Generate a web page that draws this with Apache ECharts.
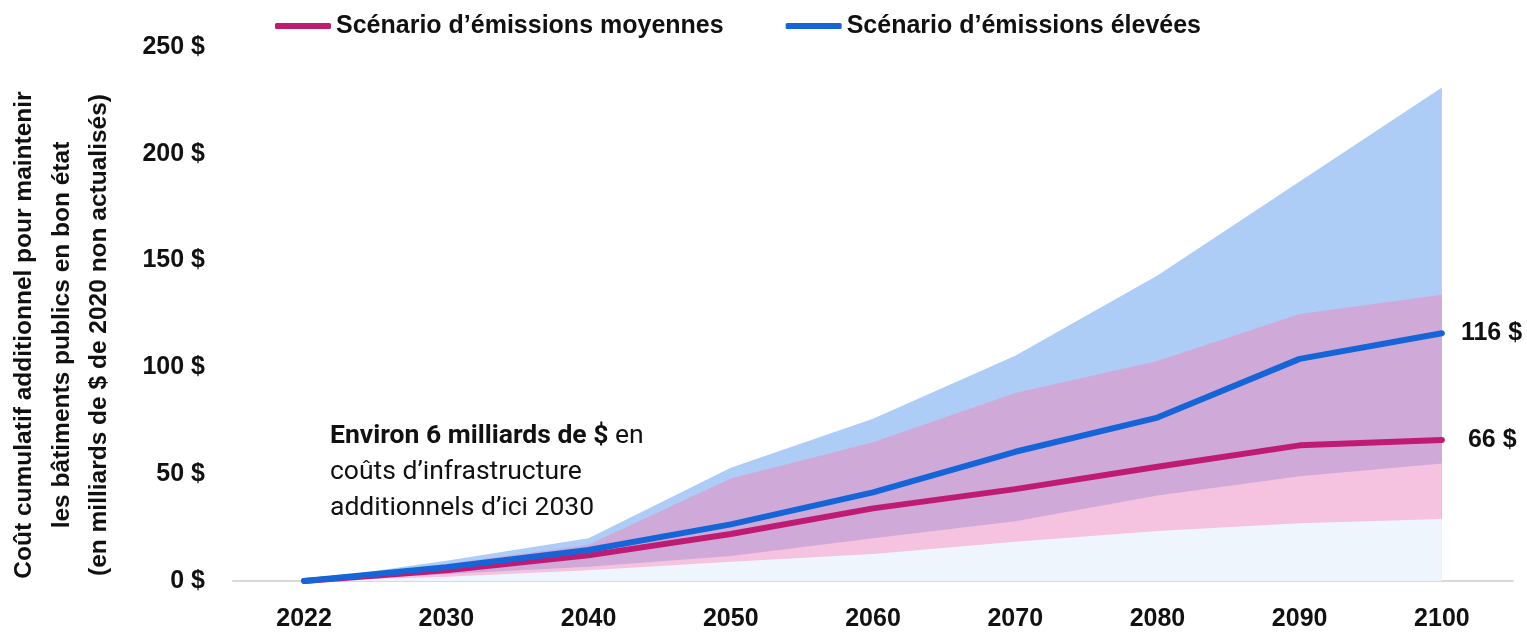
<!DOCTYPE html>
<html>
<head>
<meta charset="utf-8">
<script src="https://cdn.jsdelivr.net/npm/echarts@6/dist/echarts.min.js"></script>
<style>
html,body{margin:0;padding:0;background:#fff;}
#c{width:1527px;height:632px;}
</style>
</head>
<body>
<div id="c"></div>
<script>
const years = ['2022','2030','2040','2050','2060','2070','2080','2090','2100'];
const yTicks = [0, 50, 100, 150, 200, 250];
// Range bands (upper/lower bounds)
const highUpper = [0, 9.5, 20, 53, 76, 105.5, 143, 187, 231];
const medUpper  = [0, 8, 17, 48, 65, 88, 103, 125, 134];
const highLower = [0, 3.3, 6.7, 11.7, 20, 28, 40, 49, 55];
const medLower  = [0, 2, 5, 9, 12.6, 18.4, 23.4, 27, 29];
// Central scenarios
const highLine = [0, 6.5, 14.5, 26.5, 41.5, 60.5, 76.5, 104, 116];
const medLine  = [0, 5, 12, 22, 34, 43, 53.5, 63.5, 66];
const seriesNames = ['Scénario d’émissions moyennes', 'Scénario d’émissions élevées'];

const FONT = '"Liberation Sans", Arial, sans-serif';
const chart = echarts.init(document.getElementById('c'), null, {renderer: 'canvas'});

function band(name, data, color) {
  return {
    name: name, type: 'line', data: data, symbol: 'none', silent: true,
    lineStyle: {width: 0, opacity: 0}, areaStyle: {color: color, opacity: 1},
    z: 1
  };
}

chart.setOption({
  animation: false,
  grid: {left: 233, right: 14, top: 47, bottom: 51},
  legend: {
    data: seriesNames, left: 270, top: 8, itemWidth: 56, itemHeight: 6, itemGap: 62,
    icon: 'roundRect',
    textStyle: {fontFamily: FONT, fontWeight: 'bold', fontSize: 25, color: '#111', lineHeight: 26}
  },
  xAxis: {
    type: 'category', data: years, boundaryGap: true,
    axisLine: {lineStyle: {color: '#d9d9d9', width: 2}},
    axisTick: {show: false},
    axisLabel: {fontFamily: FONT, fontWeight: 'bold', fontSize: 25, color: '#111', margin: 26}
  },
  yAxis: {
    type: 'value', min: 0, max: 250, interval: 50,
    splitLine: {show: false}, axisLine: {show: false}, axisTick: {show: false},
    axisLabel: {fontFamily: FONT, fontWeight: 'bold', fontSize: 25, color: '#111', margin: 28,
      formatter: function (v) { return yTicks.indexOf(v) >= 0 ? v + ' $' : ''; }}
  },
  graphic: [
    {type: 'text', x: 62, y: 335, rotation: Math.PI/2,
     style: {text: 'Coût cumulatif additionnel pour maintenir\nles bâtiments publics en bon état\n(en milliards de $ de 2020 non actualisés)',
       fontFamily: FONT, fontWeight: 'bold', fontSize: 24.5, lineHeight: 37.5, fill: '#111',
       align: 'center', verticalAlign: 'middle'}},
    {type: 'text', x: 330, y: 418,
     style: {text: '{b|Environ 6 milliards de $} en\ncoûts d’infrastructure\nadditionnels d’ici 2030',
       fontFamily: 'Roboto, sans-serif', fontSize: 26.5, lineHeight: 36, fill: '#111',
       rich: {b: {fontFamily: 'Roboto, sans-serif', fontWeight: 'bold', fontSize: 26.5, lineHeight: 36, fill: '#111'}}}}
  ],
  series: [
    band('bandHighUpper', highUpper, '#aecdf6'),
    band('bandMedUpper', medUpper, '#cfa9d8'),
    band('bandHighLower', highLower, '#f5c2df'),
    band('bandMedLower', medLower, '#eef5fd'),
    {name: seriesNames[0], type: 'line', data: medLine, symbol: 'none', z: 5,
     itemStyle: {color: '#c01b72'},
     lineStyle: {color: '#c01b72', width: 6, cap: 'round', join: 'round'},
     endLabel: {show: true, distance: 26, formatter: function (p) { return Math.round(p.value) + ' $'; },
       fontFamily: FONT, fontWeight: 'bold', fontSize: 25, color: '#111'}},
    {name: seriesNames[1], type: 'line', data: highLine, symbol: 'none', z: 6,
     itemStyle: {color: '#1565d8'},
     lineStyle: {color: '#1565d8', width: 6, cap: 'round', join: 'round'},
     endLabel: {show: true, distance: 19, formatter: function (p) { return Math.round(p.value) + ' $'; },
       fontFamily: FONT, fontWeight: 'bold', fontSize: 25, color: '#111'}}
  ]
});
</script>
</body>
</html>
